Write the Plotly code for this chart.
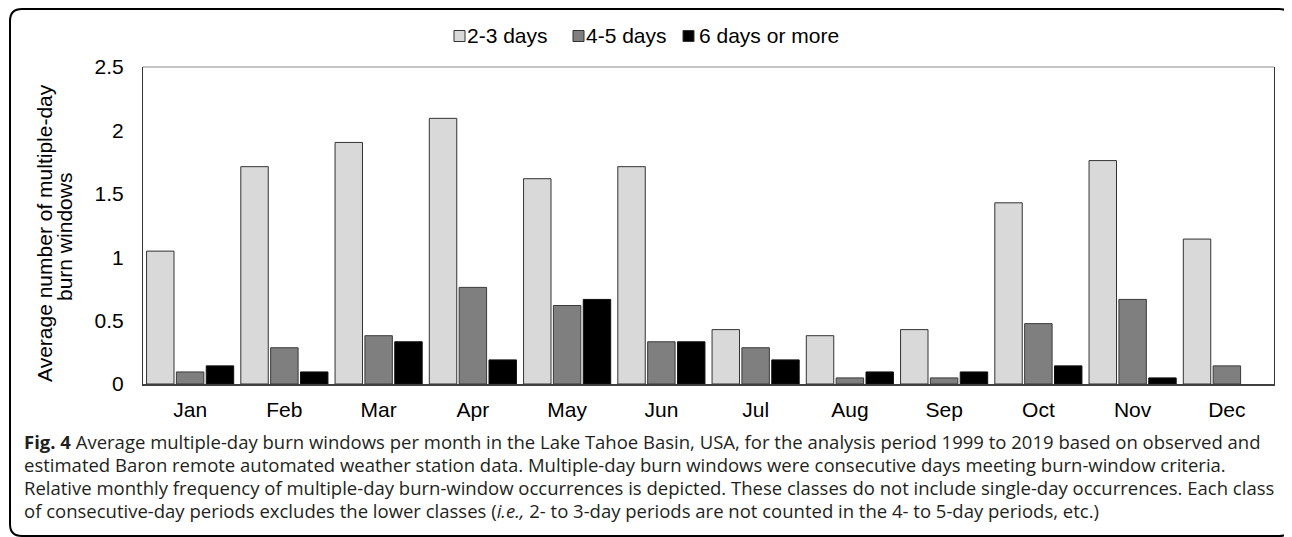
import plotly.graph_objects as go

# The page places the figure 8px from the top-left corner, so the figure is
# drawn 8px smaller and coordinates below are window pixels shifted by 8.
OFF = 8
W, H = 1292 - OFF, 537 - OFF

months = ["Jan", "Feb", "Mar", "Apr", "May", "Jun", "Jul", "Aug", "Sep", "Oct", "Nov", "Dec"]
series_names = ["2-3 days", "4-5 days", "6 days or more"]
days_2_3 = [1.048, 1.714, 1.905, 2.095, 1.619, 1.714, 0.429, 0.381, 0.429, 1.429, 1.762, 1.143]
days_4_5 = [0.095, 0.286, 0.381, 0.762, 0.619, 0.333, 0.286, 0.048, 0.048, 0.476, 0.667, 0.143]
days_6_plus = [0.143, 0.095, 0.333, 0.190, 0.667, 0.333, 0.190, 0.095, 0.095, 0.143, 0.048, 0.0]
y_ticks = [0, 0.5, 1, 1.5, 2, 2.5]
y_tick_labels = ["0", "0.5", "1", "1.5", "2", "2.5"]
y_title_lines = ["Average number of multiple-day", "burn windows"]
caption_lines = [
    "<b>Fig. 4</b> Average multiple-day burn windows per month in the Lake Tahoe Basin, USA, for the analysis period 1999 to 2019 based on observed and",
    "estimated Baron remote automated weather station data. Multiple-day burn windows were consecutive days meeting burn-window criteria.",
    "Relative monthly frequency of multiple-day burn-window occurrences is depicted. These classes do not include single-day occurrences. Each class",
    "of consecutive-day periods excludes the lower classes (<i>i.e.,</i> 2- to 3-day periods are not counted in the 4- to 5-day periods, etc.)",
]

fills = ["#d9d9d9", "#7f7f7f", "#000000"]
edges = ["#333333", "#3a3a3a", "#111111"]

def px(x):
    return (x - OFF) / W

def py(y):
    return 1 - (y - OFF) / H

fig = go.Figure()
for name, vals, fc, ec in zip(series_names, [days_2_3, days_4_5, days_6_plus], fills, edges):
    lw = [1 if v > 0 else 0 for v in vals]
    fig.add_trace(go.Bar(x=months, y=vals, name=name,
                         marker=dict(color=fc, line=dict(color=ec, width=lw))))

AX_FONT = dict(family="Liberation Sans, Arial, sans-serif", size=21, color="#000000")

fig.update_layout(
    width=W, height=H,
    margin=dict(l=0, r=0, t=0, b=0, autoexpand=False),
    paper_bgcolor="white", plot_bgcolor="white",
    showlegend=False,
    barmode="group", bargap=0.05, bargroupgap=0.08,
    xaxis=dict(domain=[px(143), px(1274)], showline=True, linecolor="#404040", linewidth=1.5,
               showgrid=False, ticks="", tickfont=AX_FONT, ticklabelstandoff=6, zeroline=False),
    yaxis=dict(domain=[py(384), py(67)], range=[0, 2.5], showline=True, mirror=True,
               linecolor="#333333", linewidth=1, showgrid=False, zeroline=False,
               tickvals=y_ticks, ticktext=y_tick_labels, ticks="", tickfont=AX_FONT,
               ticklabelstandoff=14),
)

shapes = []
# top frame line of plot area (gray)
shapes.append(dict(type="line", xref="x domain", yref="y domain", x0=0, x1=1, y0=1, y1=1,
                   line=dict(color="#8c8c8c", width=1.2)))
# rounded outer border
l, t, r, b, rad = 10, 9, 1291, 536, 12
path = (f"M {px(l)},{py(t + rad)} Q {px(l)},{py(t)} {px(l + rad)},{py(t)} "
        f"L {px(r - rad)},{py(t)} Q {px(r)},{py(t)} {px(r)},{py(t + rad)} "
        f"L {px(r)},{py(b - rad)} Q {px(r)},{py(b)} {px(r - rad)},{py(b)} "
        f"L {px(l + rad)},{py(b)} Q {px(l)},{py(b)} {px(l)},{py(b - rad)} Z")
shapes.append(dict(type="path", xref="paper", yref="paper", path=path,
                   line=dict(color="#000000", width=2)))

# custom legend
leg_sq = [(454, 465), (573, 584), (683, 694)]
leg_txt_x = [466, 585, 698]
leg_y = 36
annotations = []
for (x0, x1), tx, name, fc in zip(leg_sq, leg_txt_x, series_names, fills):
    shapes.append(dict(type="rect", xref="paper", yref="paper", x0=px(x0), x1=px(x1),
                       y0=py(leg_y + 5.5), y1=py(leg_y - 5.5), fillcolor=fc,
                       line=dict(color="#333333", width=1)))
    annotations.append(dict(x=px(tx), y=py(leg_y), xref="paper", yref="paper", xanchor="left",
                            yanchor="middle", text=name, showarrow=False, font=AX_FONT,
                            borderpad=0))

# y-axis title, two rotated lines
for xc, yc, line in zip([44, 64], [233, 237], y_title_lines):
    annotations.append(dict(x=px(xc), y=py(yc), xref="paper", yref="paper", xanchor="center",
                            yanchor="middle", text=line, textangle=-90, showarrow=False,
                            font=AX_FONT))

# caption
CAP_FONT = dict(family="Open Sans, Noto Sans, sans-serif", size=18.5, color="#231f20")
for yc, line in zip([441, 464, 487, 510], caption_lines):
    annotations.append(dict(x=px(23), y=py(yc), xref="paper", yref="paper", xanchor="left",
                            yanchor="middle", text=line, showarrow=False, font=CAP_FONT,
                            align="left", borderpad=0))

fig.update_layout(shapes=shapes, annotations=annotations)
fig.write_html("out.html")
